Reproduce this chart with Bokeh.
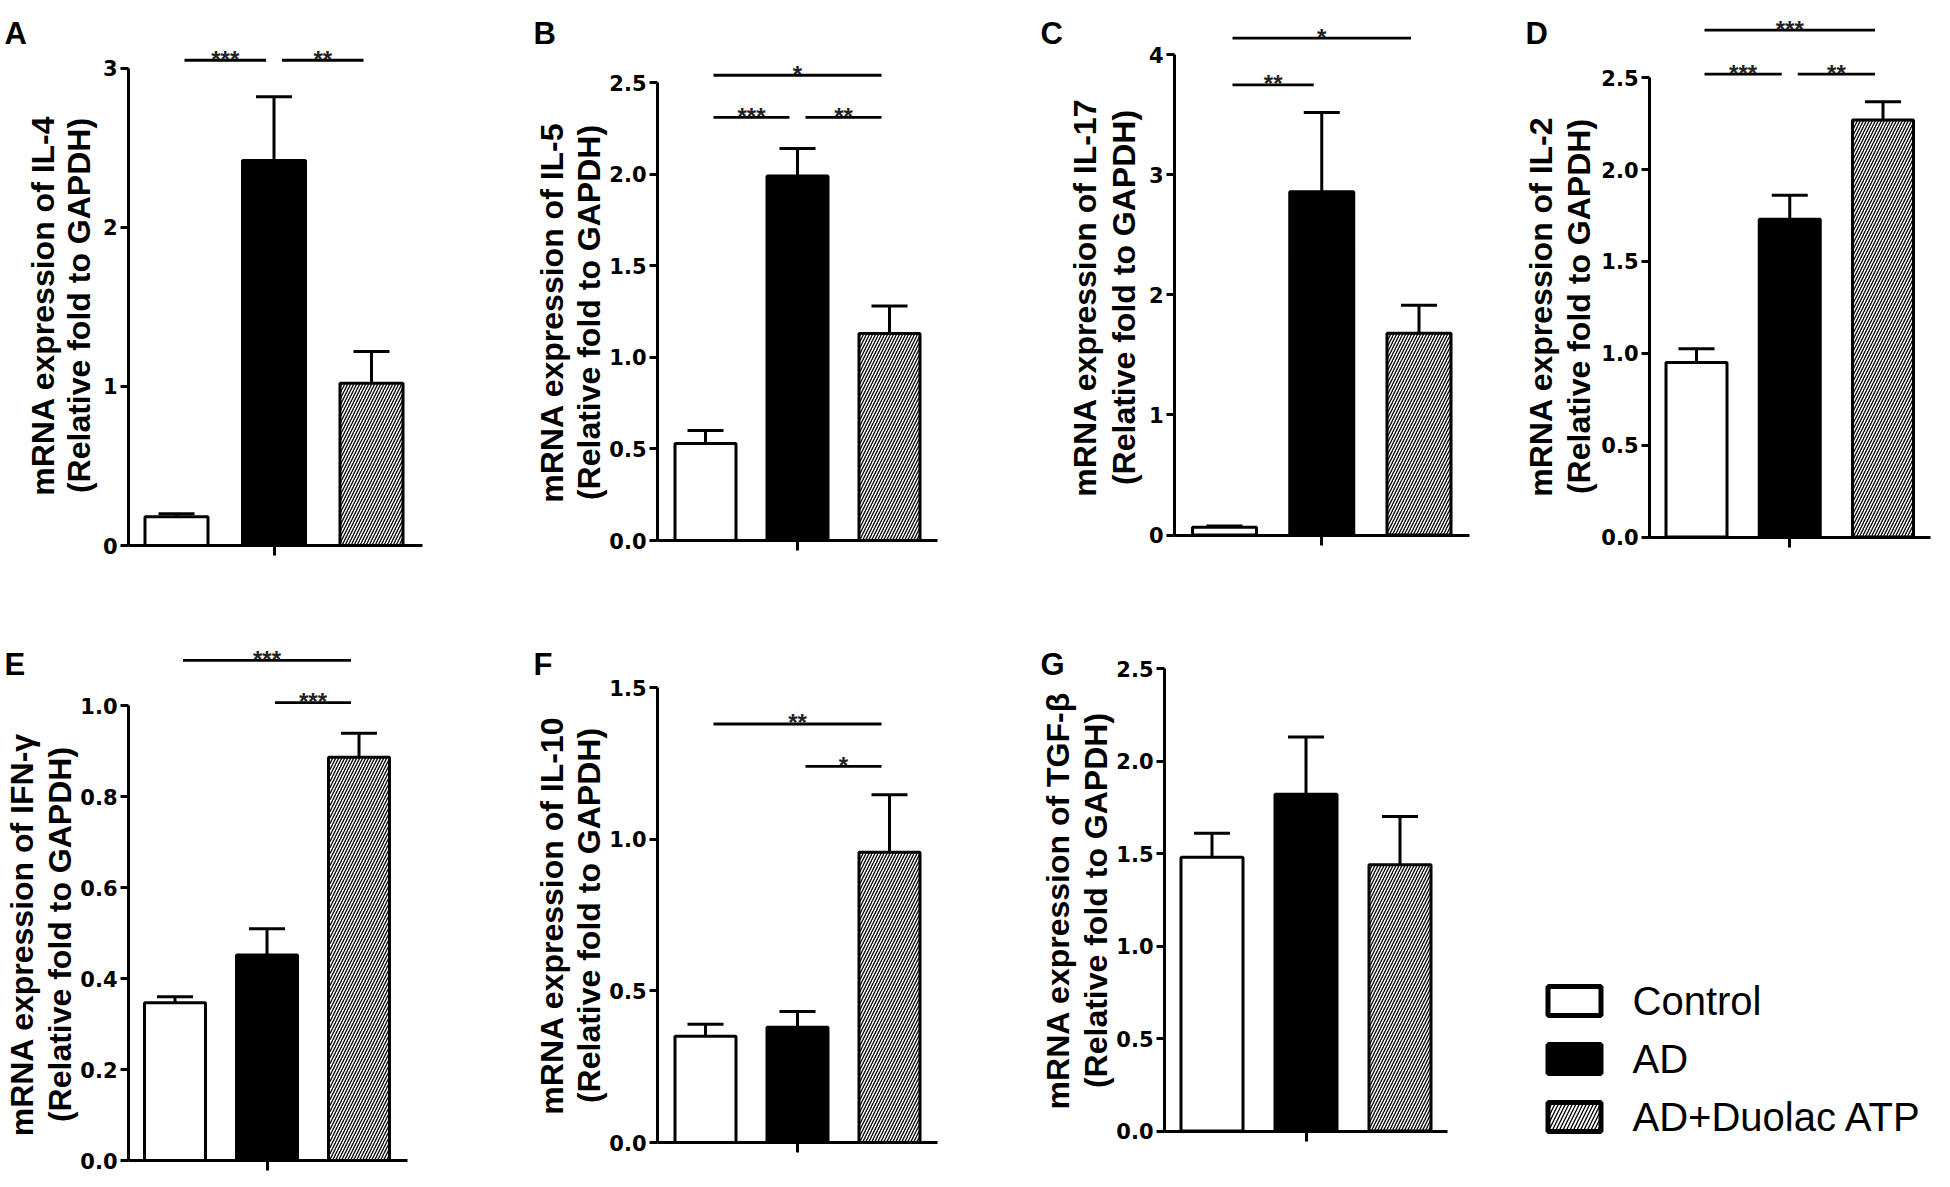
import math
from bokeh.plotting import figure
from bokeh.layouts import row, column
from bokeh.models import FixedTicker, NumeralTickFormatter, Range1d
from bokeh.core.properties import value
from bokeh.embed import file_html
from bokeh.resources import INLINE

# ---------------- data ----------------
groups = ["Control", "AD", "AD+Duolac ATP"]

il4_mean = [0.18, 2.42, 1.02]
il4_sem = [0.02, 0.40, 0.20]
il4_ticks = [0, 1, 2, 3]
il4_sig = [(0, 1, 3.05, "***"), (1, 2, 3.05, "**")]

il5_mean = [0.53, 1.99, 1.13]
il5_sem = [0.07, 0.15, 0.15]
il5_ticks = [0.0, 0.5, 1.0, 1.5, 2.0, 2.5]
il5_sig = [(0, 2, 2.54, "*"), (0, 1, 2.31, "***"), (1, 2, 2.31, "**")]

il17_mean = [0.065, 2.86, 1.68]
il17_sem = [0.01, 0.66, 0.235]
il17_ticks = [0, 1, 2, 3, 4]
il17_sig = [(0, 2, 4.14, "*"), (0, 1, 3.75, "**")]

il2_mean = [0.95, 1.73, 2.27]
il2_sem = [0.075, 0.13, 0.10]
il2_ticks = [0.0, 0.5, 1.0, 1.5, 2.0, 2.5]
il2_sig = [(0, 2, 2.76, "***"), (0, 1, 2.52, "***"), (1, 2, 2.52, "**")]

ifng_mean = [0.347, 0.452, 0.887]
ifng_sem = [0.013, 0.058, 0.053]
ifng_ticks = [0.0, 0.2, 0.4, 0.6, 0.8, 1.0]
ifng_sig = [(0, 2, 1.10, "***"), (1, 2, 1.007, "***")]

il10_mean = [0.35, 0.38, 0.957]
il10_sem = [0.04, 0.052, 0.19]
il10_ticks = [0.0, 0.5, 1.0, 1.5]
il10_sig = [(0, 2, 1.38, "**"), (1, 2, 1.24, "*")]

tgfb_mean = [1.48, 1.82, 1.44]
tgfb_sem = [0.13, 0.31, 0.26]
tgfb_ticks = [0.0, 0.5, 1.0, 1.5, 2.0, 2.5]
tgfb_sig = []

# ---------------- layout geometry (page pixels) ----------------
# fig box (l, r, t, b); frame covers the whole figure, axes are drawn at fixed locations.
# fl/fr: x-axis extent, fb: y=0 pixel, tt: top tick pixel, c1: first bar centre, sp: bar spacing,
# bw: bar outer width, lx1/lx2/ly: y-label line centres, ax/ay: panel letter left/baseline
GEO = {
    "A": dict(fig=(0, 488, 0, 590), fl=128, fr=422, fb=545, tt=67.7, c1=176, sp=97.5, bw=66,
              lx1=42, lx2=78, ly=305, ax=4, ay=33),
    "B": dict(fig=(488, 985, 0, 590), fl=657, fr=937, fb=540, tt=82.1, c1=705, sp=92, bw=64,
              lx1=551, lx2=588, ly=312, ax=533, ay=33),
    "C": dict(fig=(985, 1480, 0, 590), fl=1174, fr=1469, fb=534.5, tt=54.4, c1=1224, sp=97.25, bw=67,
              lx1=1084, lx2=1123, ly=297, ax=1040, ay=33),
    "D": dict(fig=(1480, 1948, 0, 590), fl=1649, fr=1930, fb=536.5, tt=77.3, c1=1696, sp=93.25, bw=64,
              lx1=1540, lx2=1578, ly=306, ax=1525, ay=33),
    "E": dict(fig=(0, 488, 590, 1185), fl=128, fr=407, fb=1160, tt=705.4, c1=174.5, sp=92, bw=64,
              lx1=21, lx2=59, ly=934, ax=4, ay=664),
    "F": dict(fig=(488, 985, 590, 1185), fl=657, fr=937, fb=1142, tt=687.1, c1=705, sp=92, bw=64,
              lx1=551, lx2=588, ly=915, ax=533, ay=664),
    "G": dict(fig=(985, 1480, 590, 1185), fl=1164, fr=1447, fb=1130.6, tt=668, c1=1211.5, sp=94, bw=65,
              lx1=1057, lx2=1095, ly=900, ax=1040, ay=664),
}
LEG = dict(fig=(1480, 1948, 590, 1185), sx=1574, sy0=1000.5, dy=58, sw=53, sh=29, tx=1632)

STYLES = [
    dict(fill_color="white", hatch_pattern=None),
    dict(fill_color="black", hatch_pattern=None),
    dict(fill_color="white", hatch_pattern="/"),
]

LABEL_FONT = "Liberation Sans"


def base_fig(w, h, xr, yr):
    p = figure(width=w, height=h, x_range=xr, y_range=yr, output_backend="svg",
               toolbar_location=None, min_border_left=0, min_border_right=0,
               min_border_top=0, min_border_bottom=0)
    p.outline_line_color = None
    p.xgrid.visible = False
    p.ygrid.visible = False
    p.background_fill_color = "white"
    p.border_fill_color = "white"
    return p


def make_panel(letter, gene, means, sems, ticks, fmt, sig):
    g = GEO[letter]
    fig_l, fig_r, fig_t, fig_b = g["fig"]
    ppu = (g["fb"] - g["tt"]) / ticks[-1]
    sp = g["sp"]

    def X(px):
        return 1 + (px - g["c1"]) / sp

    def Y(py):
        return (g["fb"] - py) / ppu

    p = base_fig(fig_r - fig_l, fig_b - fig_t,
                 Range1d(X(fig_l), X(fig_r)), Range1d(Y(fig_b), Y(fig_t)))

    xs = [i + 1 for i in range(len(means))]
    bw = (g["bw"] - 3) / sp
    for i, (x, m) in enumerate(zip(xs, means)):
        st = STYLES[i]
        kw = dict(x=[x], top=[m], bottom=0, width=bw, fill_color=st["fill_color"],
                  line_color="black", line_width=3)
        if st["hatch_pattern"]:
            kw.update(hatch_pattern=st["hatch_pattern"], hatch_color="black",
                      hatch_weight=1.3, hatch_scale=6)
        p.vbar(**kw)

    tops = [m + s for m, s in zip(means, sems)]
    p.segment(x0=xs, y0=means, x1=xs, y1=tops, line_color="black", line_width=3)
    p.scatter(x=xs, y=tops, marker="dash", size=36, line_color="black", line_width=3)

    off = 8 / sp
    if sig:
        x0 = [a + 1 + off for a, b, yy, t in sig]
        x1 = [b + 1 - off for a, b, yy, t in sig]
        ys = [yy for a, b, yy, t in sig]
        txt = [t for a, b, yy, t in sig]
        p.segment(x0=x0, y0=ys, x1=x1, y1=ys, line_color="black", line_width=2.8)
        p.text(x=[(u + v) / 2 for u, v in zip(x0, x1)], y=ys, text=txt,
               text_font=value(LABEL_FONT), text_font_style="bold",
               text_font_size=value("24px"), text_align="center",
               text_baseline="alphabetic", text_color="#222222", y_offset=-1)

    # axes at fixed locations inside the frame
    ya = p.yaxis[0]
    ya.fixed_location = X(g["fl"])
    ya.ticker = FixedTicker(ticks=ticks)
    ya.formatter = NumeralTickFormatter(format=fmt)
    ya.bounds = (0, ticks[-1])
    ya.axis_line_width = 3
    ya.major_tick_line_width = 3
    ya.major_tick_out = 8
    ya.major_tick_in = 0
    ya.minor_tick_line_color = None
    ya.major_label_standoff = 3
    ya.major_label_text_font = "DejaVu Sans"
    ya.major_label_text_font_style = "bold"
    ya.major_label_text_font_size = "21px"
    ya.major_label_text_color = "black"

    xa = p.xaxis[0]
    xa.fixed_location = 0
    xa.ticker = FixedTicker(ticks=[2])
    xa.major_label_overrides = {2: ""}
    xa.bounds = (X(g["fl"]), X(g["fr"]))
    xa.axis_line_width = 3
    xa.major_tick_line_width = 3
    xa.major_tick_out = 10
    xa.major_tick_in = 0
    xa.minor_tick_line_color = None

    # y label (two lines, rotated)
    p.text(x=[X(g["lx1"]), X(g["lx2"])], y=[Y(g["ly"])] * 2,
           text=[f"mRNA expression of {gene}", "(Relative fold to GAPDH)"],
           angle=math.pi / 2, text_align="center", text_baseline="middle",
           text_font=value(LABEL_FONT), text_font_style="bold",
           text_font_size=value("32px"), text_color="black")
    # panel letter
    p.text(x=[X(g["ax"])], y=[Y(g["ay"])], text=[letter], text_align="left",
           text_baseline="alphabetic", text_font=value(LABEL_FONT), text_font_style="bold",
           text_font_size=value("31px"), text_color="black")
    return p


pA = make_panel("A", "IL-4", il4_mean, il4_sem, il4_ticks, "0", il4_sig)
pB = make_panel("B", "IL-5", il5_mean, il5_sem, il5_ticks, "0.0", il5_sig)
pC = make_panel("C", "IL-17", il17_mean, il17_sem, il17_ticks, "0", il17_sig)
pD = make_panel("D", "IL-2", il2_mean, il2_sem, il2_ticks, "0.0", il2_sig)
pE = make_panel("E", "IFN-γ", ifng_mean, ifng_sem, ifng_ticks, "0.0", ifng_sig)
pF = make_panel("F", "IL-10", il10_mean, il10_sem, il10_ticks, "0.0", il10_sig)
pG = make_panel("G", "TGF-β", tgfb_mean, tgfb_sem, tgfb_ticks, "0.0", tgfb_sig)

# ---------------- legend panel ----------------
ll, lr, lt, lb = LEG["fig"]
pL = base_fig(lr - ll, lb - lt, Range1d(ll, lr), Range1d(-lb, -lt))
pL.xaxis.visible = False
pL.yaxis.visible = False
leg_y = [-(LEG["sy0"] + LEG["dy"] * i) for i in range(len(groups))]
for i, name in enumerate(groups):
    st = STYLES[i]
    kw = dict(x=[LEG["sx"]], y=[leg_y[i]], width=LEG["sw"], height=LEG["sh"],
              fill_color=st["fill_color"], line_color="black", line_width=5)
    if st["hatch_pattern"]:
        kw.update(hatch_pattern=st["hatch_pattern"], hatch_color="black", hatch_weight=1.3, hatch_scale=7)
    pL.rect(**kw)
pL.text(x=[LEG["tx"]] * len(groups), y=leg_y, text=groups, text_font=value(LABEL_FONT),
        text_font_size=value("40px"), text_align="left", text_baseline="middle", text_color="black")

layout = column(row(pA, pB, pC, pD), row(pE, pF, pG, pL))
open("out.html", "w").write(file_html(layout, INLINE))
